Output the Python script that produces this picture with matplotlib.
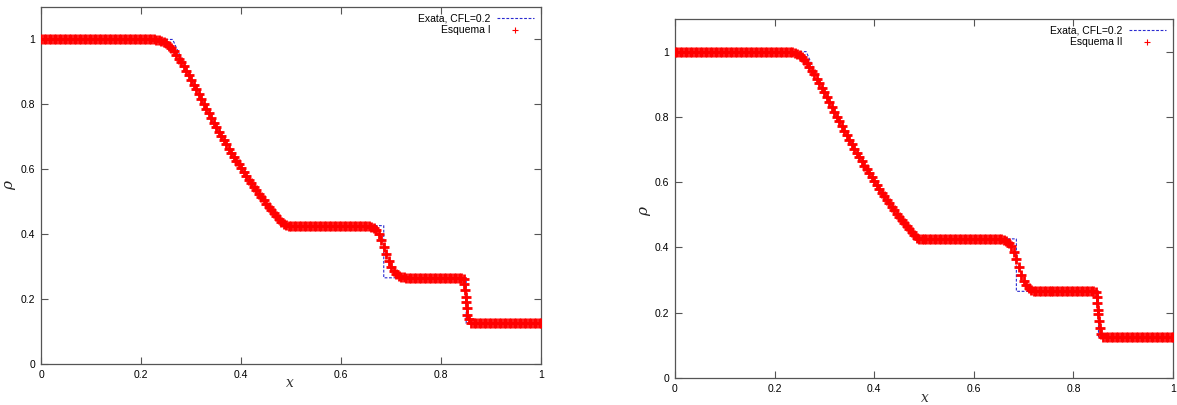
import numpy as np
import matplotlib
matplotlib.use('Agg')
import matplotlib.pyplot as plt
from matplotlib.ticker import FuncFormatter

plt.rcParams['font.family'] = ['Liberation Sans', 'DejaVu Sans']
plt.rcParams['mathtext.fontset'] = 'dejavuserif'

# ── Dados (tubo de choque de Sod, t = 0.2) ───────────────────────────────
# malha dos esquemas: passo 0.005 em [0, 1]
X_MESH = np.linspace(0.0, 1.0, 201)

RHO_ESQ1 = [
    1.000, 1.000, 1.000, 1.000, 1.000, 1.000, 1.000, 1.000, 1.000, 1.000,
    1.000, 1.000, 1.000, 1.000, 1.000, 1.000, 1.000, 1.000, 1.000, 1.000,
    1.000, 1.000, 1.000, 1.000, 1.000, 1.000, 1.000, 1.000, 1.000, 1.000,
    1.000, 1.000, 1.000, 1.000, 1.000, 1.000, 1.000, 1.000, 1.000, 1.000,
    1.000, 1.000, 1.000, 1.000, 1.000, 1.000, 0.999, 0.998, 0.996, 0.993,
    0.988, 0.981, 0.973, 0.963, 0.952, 0.941, 0.930, 0.917, 0.904, 0.890,
    0.875, 0.861, 0.846, 0.831, 0.816, 0.801, 0.786, 0.772, 0.758, 0.744,
    0.730, 0.716, 0.703, 0.690, 0.677, 0.664, 0.651, 0.639, 0.627, 0.615,
    0.603, 0.591, 0.580, 0.568, 0.557, 0.546, 0.536, 0.525, 0.515, 0.504,
    0.494, 0.485, 0.475, 0.465, 0.456, 0.447, 0.439, 0.431, 0.427, 0.426,
    0.426, 0.426, 0.426, 0.426, 0.426, 0.426, 0.426, 0.426, 0.426, 0.426,
    0.426, 0.426, 0.426, 0.426, 0.426, 0.426, 0.426, 0.426, 0.426, 0.426,
    0.426, 0.426, 0.426, 0.426, 0.426, 0.426, 0.426, 0.426, 0.426, 0.426,
    0.426, 0.425, 0.423, 0.419, 0.412, 0.400, 0.383, 0.362, 0.340, 0.318,
    0.300, 0.287, 0.278, 0.272, 0.269, 0.267, 0.266, 0.266, 0.266, 0.266,
    0.266, 0.266, 0.266, 0.266, 0.266, 0.266, 0.266, 0.266, 0.266, 0.266,
    0.266, 0.266, 0.266, 0.266, 0.266, 0.266, 0.266, 0.266, 0.266, 0.262,
    0.190, 0.138, 0.126, 0.125, 0.125, 0.125, 0.125, 0.125, 0.125, 0.125,
    0.125, 0.125, 0.125, 0.125, 0.125, 0.125, 0.125, 0.125, 0.125, 0.125,
    0.125, 0.125, 0.125, 0.125, 0.125, 0.125, 0.125, 0.125, 0.125, 0.125,
    0.125,
]
RHO_ESQ2 = [
    1.000, 1.000, 1.000, 1.000, 1.000, 1.000, 1.000, 1.000, 1.000, 1.000,
    1.000, 1.000, 1.000, 1.000, 1.000, 1.000, 1.000, 1.000, 1.000, 1.000,
    1.000, 1.000, 1.000, 1.000, 1.000, 1.000, 1.000, 1.000, 1.000, 1.000,
    1.000, 1.000, 1.000, 1.000, 1.000, 1.000, 1.000, 1.000, 1.000, 1.000,
    1.000, 1.000, 1.000, 1.000, 1.000, 1.000, 0.999, 0.998, 0.997, 0.994,
    0.989, 0.983, 0.975, 0.965, 0.954, 0.942, 0.930, 0.917, 0.904, 0.890,
    0.875, 0.861, 0.846, 0.831, 0.816, 0.801, 0.786, 0.772, 0.758, 0.744,
    0.730, 0.716, 0.703, 0.690, 0.677, 0.664, 0.651, 0.639, 0.627, 0.615,
    0.603, 0.591, 0.580, 0.568, 0.557, 0.546, 0.536, 0.525, 0.515, 0.504,
    0.494, 0.485, 0.475, 0.465, 0.456, 0.447, 0.438, 0.430, 0.427, 0.426,
    0.426, 0.426, 0.426, 0.426, 0.426, 0.426, 0.426, 0.426, 0.426, 0.426,
    0.426, 0.426, 0.426, 0.426, 0.426, 0.426, 0.426, 0.426, 0.426, 0.426,
    0.426, 0.426, 0.426, 0.426, 0.426, 0.426, 0.426, 0.426, 0.426, 0.426,
    0.426, 0.426, 0.424, 0.421, 0.415, 0.404, 0.387, 0.365, 0.341, 0.317,
    0.298, 0.285, 0.277, 0.271, 0.268, 0.267, 0.266, 0.266, 0.266, 0.266,
    0.266, 0.266, 0.266, 0.266, 0.266, 0.266, 0.266, 0.266, 0.266, 0.266,
    0.266, 0.266, 0.266, 0.266, 0.266, 0.266, 0.266, 0.266, 0.266, 0.263,
    0.195, 0.136, 0.126, 0.125, 0.125, 0.125, 0.125, 0.125, 0.125, 0.125,
    0.125, 0.125, 0.125, 0.125, 0.125, 0.125, 0.125, 0.125, 0.125, 0.125,
    0.125, 0.125, 0.125, 0.125, 0.125, 0.125, 0.125, 0.125, 0.125, 0.125,
    0.125,
]
# pontos extra visíveis no choque
SHOCK_X = [0.8465, 0.8480, 0.8495, 0.8510, 0.8525]
SHOCK_ESQ1 = [0.246, 0.228, 0.206, 0.172, 0.150]
SHOCK_ESQ2 = [0.248, 0.230, 0.208, 0.175, 0.152]

# solução exata
X_EXATA = [0.0, 0.2634, 0.27, 0.28, 0.29, 0.30, 0.31, 0.32, 0.33, 0.34, 0.35,
           0.36, 0.37, 0.38, 0.39, 0.40, 0.41, 0.42, 0.43, 0.44, 0.45, 0.46,
           0.47, 0.48, 0.4859, 0.6855, 0.6855, 0.8504, 0.8504, 1.0]
RHO_EXATA = [1.0, 1.0, 0.977, 0.943, 0.910, 0.877, 0.846, 0.816, 0.786, 0.758,
             0.730, 0.703, 0.677, 0.651, 0.627, 0.603, 0.580, 0.557, 0.536,
             0.515, 0.494, 0.475, 0.455, 0.437, 0.4263, 0.4263, 0.2656,
             0.2656, 0.125, 0.125]

PAINEIS = [
    ('Esquema I', RHO_ESQ1, SHOCK_ESQ1),
    ('Esquema II', RHO_ESQ2, SHOCK_ESQ2),
]

# ── Gráfico ──────────────────────────────────────────────────────────────
W, H = 1177, 405
fig = plt.figure(figsize=(W / 100, H / 100), dpi=100)
caixas = [(41, 7, 541, 364), (675, 19, 1173, 378)]   # px: esq, topo, dir, base
rotulo_x = [(290, 383), (925, 398)]
rotulo_rho = [(10, 185), (645, 210)]

fmt = FuncFormatter(lambda v, p: '%g' % round(v, 6))
for (nome, rho, rho_ch), (l, t, r, b), (xx, xy), (rx, ry) in zip(
        PAINEIS, caixas, rotulo_x, rotulo_rho):
    ax = fig.add_axes([l / W, (H - b) / H, (r - l) / W, (b - t) / H])
    x = np.concatenate([X_MESH, SHOCK_X])
    y = np.concatenate([rho, rho_ch])
    ordem = np.argsort(x)
    ax.plot(X_EXATA, RHO_EXATA, ls=(0, (2.5, 1.5)), color='#2a2ad0', lw=0.8,
            label='Exata, CFL=0.2', zorder=2)
    ax.plot(x[ordem], y[ordem], ls='none', marker='+', ms=7.5, mew=2.0,
            color='#ff0000', label=nome, zorder=3)
    ax.set_xlim(0, 1)
    ax.set_ylim(0, 1.1)
    ax.set_xticks([0, 0.2, 0.4, 0.6, 0.8, 1])
    ax.set_yticks([0, 0.2, 0.4, 0.6, 0.8, 1])
    ax.xaxis.set_major_formatter(fmt)
    ax.yaxis.set_major_formatter(fmt)
    ax.tick_params(direction='in', top=True, right=True, length=5, width=0.8,
                   labelsize=7.5, color='#555555', pad=4)
    for s in ax.spines.values():
        s.set_color('#555555')
        s.set_linewidth(0.9)
    fig.text(rx / W, 1 - ry / H, r'$\rho$', fontsize=11, ha='center',
             va='center', rotation=90, color='#222222')
    fig.text(xx / W, 1 - xy / H, r'$x$', fontsize=10, ha='center',
             va='center', color='#333333')
    leg = ax.legend(loc='upper right', frameon=False, markerfirst=False,
                    fontsize=7.5, handlelength=3.6, handletextpad=0.6,
                    borderaxespad=0.25, labelspacing=0.15)
    for h in leg.legend_handles:
        h.set_markersize(5)
        h.set_markeredgewidth(0.8)

fig.savefig('out.png', dpi=100)
